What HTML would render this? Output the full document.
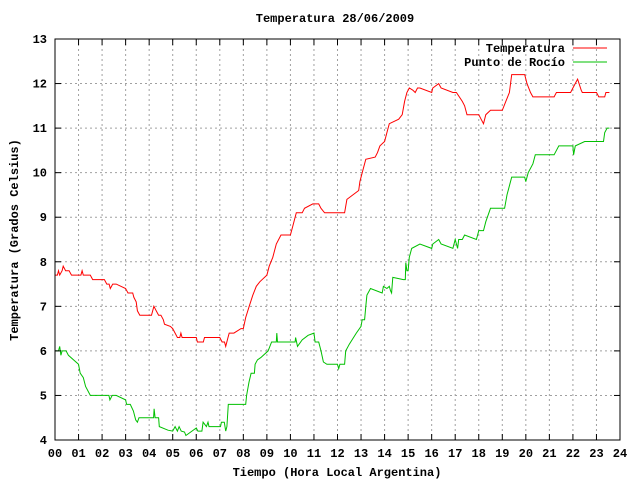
<!DOCTYPE html>
<html><head><meta charset="utf-8"><style>
body{margin:0;background:#fff}
text{font-family:"Liberation Mono",monospace;font-size:12px;font-weight:bold;fill:#000}
</style></head><body>
<svg id="chart" width="640" height="480" viewBox="0 0 640 480" xmlns="http://www.w3.org/2000/svg">
<rect width="640" height="480" fill="#fff"/>
<g id="grid"></g>
<g id="series"></g>
<rect x="55" y="39" width="565" height="401" fill="none" stroke="#000" stroke-width="1"/>
<g id="ticks"></g>
<text x="335" y="22" text-anchor="middle">Temperatura 28/06/2009</text>
<text x="337" y="476" text-anchor="middle">Tiempo (Hora Local Argentina)</text>
<text transform="translate(18,240) rotate(-90)" text-anchor="middle">Temperatura (Grados Celsius)</text>
<g>
<text x="565" y="52" text-anchor="end">Temperatura</text>
<line x1="573" y1="48" x2="607" y2="48" stroke="#ff0000"/>
<text x="565" y="66" text-anchor="end">Punto de Rocío</text>
<line x1="573" y1="62" x2="607" y2="62" stroke="#00c000"/>
</g>
</svg>
<script>
const xTicks=["00","01","02","03","04","05","06","07","08","09","10","11","12","13","14","15","16","17","18","19","20","21","22","23","24"];
const yTicks=[4,5,6,7,8,9,10,11,12,13];
const tempHours=[0,0.1,0.15,0.2,0.3,0.35,0.45,0.6,0.7,1.0,1.1,1.15,1.2,1.5,1.6,2.1,2.2,2.3,2.35,2.45,2.6,2.8,3.0,3.1,3.3,3.35,3.45,3.5,3.6,4.1,4.2,4.3,4.4,4.5,4.6,4.65,4.9,5.0,5.1,5.2,5.3,5.35,5.4,6.0,6.05,6.3,6.35,7.0,7.1,7.2,7.25,7.35,7.4,7.6,7.9,8.0,8.1,8.25,8.4,8.55,8.7,9.0,9.1,9.25,9.4,9.6,10.0,10.1,10.25,10.5,10.6,10.95,11.2,11.3,11.45,12.3,12.4,12.9,12.95,13.05,13.2,13.6,13.7,13.8,14.0,14.1,14.2,14.6,14.75,14.85,14.95,15.05,15.2,15.3,15.4,15.5,16.0,16.05,16.3,16.4,16.9,17.05,17.3,17.4,17.5,18.0,18.1,18.2,18.3,18.5,19.0,19.15,19.3,19.4,19.95,20.05,20.2,20.3,21.2,21.3,21.9,22.0,22.2,22.35,22.4,23.0,23.1,23.35,23.4,23.55];
const tempValues=[7.7,7.7,7.8,7.7,7.8,7.9,7.8,7.8,7.7,7.7,7.7,7.8,7.7,7.7,7.6,7.6,7.5,7.5,7.4,7.5,7.5,7.45,7.4,7.3,7.3,7.2,7.1,6.9,6.8,6.8,7.0,6.9,6.8,6.8,6.7,6.6,6.55,6.5,6.4,6.3,6.3,6.4,6.3,6.3,6.2,6.2,6.3,6.3,6.2,6.2,6.1,6.3,6.4,6.4,6.5,6.5,6.75,7.0,7.25,7.45,7.55,7.7,7.9,8.1,8.4,8.6,8.6,8.8,9.1,9.1,9.2,9.3,9.3,9.2,9.1,9.1,9.4,9.6,9.8,10.0,10.3,10.35,10.45,10.6,10.7,10.9,11.1,11.2,11.3,11.6,11.8,11.9,11.85,11.8,11.9,11.9,11.8,11.9,12.0,11.9,11.8,11.8,11.6,11.5,11.3,11.3,11.2,11.1,11.3,11.4,11.4,11.6,11.8,12.2,12.2,12.0,11.8,11.7,11.7,11.8,11.8,11.9,12.1,11.85,11.8,11.8,11.7,11.7,11.8,11.8];
const dewHours=[0,0.15,0.2,0.25,0.3,0.47,0.57,1.0,1.07,1.2,1.3,1.4,1.5,2.29,2.33,2.43,2.6,3.0,3.04,3.2,3.33,3.43,3.5,3.57,4.19,4.21,4.25,4.4,4.43,4.8,5.0,5.1,5.2,5.27,5.36,5.5,5.56,6.0,6.07,6.24,6.29,6.43,6.5,6.54,7.03,7.07,7.19,7.25,7.3,7.36,8.1,8.14,8.24,8.33,8.47,8.5,8.6,8.74,9.05,9.2,9.4,9.42,9.45,10.2,10.22,10.3,10.5,10.75,11.0,11.05,11.2,11.3,11.4,11.55,12.0,12.05,12.1,12.3,12.35,12.5,12.8,13.0,13.05,13.15,13.2,13.25,13.4,13.9,13.95,14.1,14.2,14.25,14.3,14.32,14.35,14.8,14.88,14.9,14.95,15.0,15.05,15.15,15.5,16.0,16.05,16.3,16.4,16.9,17.0,17.1,17.15,17.3,17.4,17.9,18.0,18.2,18.3,18.5,19.1,19.2,19.4,19.95,20.0,20.1,20.3,20.4,21.2,21.4,22.0,22.03,22.1,22.5,23.3,23.35,23.45,23.55];
const dewValues=[6.0,6.0,6.1,5.9,6.0,6.0,5.9,5.7,5.5,5.4,5.2,5.1,5.0,5.0,4.9,5.0,5.0,4.9,4.8,4.8,4.65,4.45,4.4,4.5,4.5,4.7,4.5,4.5,4.3,4.22,4.2,4.3,4.2,4.3,4.2,4.18,4.1,4.27,4.2,4.2,4.4,4.3,4.4,4.3,4.3,4.4,4.4,4.2,4.3,4.8,4.8,5.0,5.3,5.5,5.5,5.7,5.8,5.85,6.0,6.2,6.2,6.4,6.2,6.2,6.3,6.1,6.25,6.35,6.4,6.2,6.2,6.0,5.75,5.7,5.7,5.6,5.7,5.7,6.0,6.15,6.4,6.55,6.7,6.7,7.0,7.25,7.4,7.3,7.45,7.4,7.45,7.35,7.3,7.45,7.65,7.6,7.6,7.98,7.8,7.8,8.1,8.3,8.4,8.3,8.4,8.5,8.4,8.3,8.5,8.3,8.5,8.5,8.6,8.5,8.7,8.7,8.9,9.2,9.2,9.5,9.9,9.9,9.8,10.0,10.2,10.4,10.4,10.6,10.6,10.4,10.6,10.7,10.7,10.9,11.0,11.0];
const L=55,R=620,T=39,B=440;
const xs=h=>L+(R-L)*h/24;
const ys=v=>B-(B-T)*(v-4)/9;
const NS="http://www.w3.org/2000/svg";
function mk(tag,attrs,parent){const e=document.createElementNS(NS,tag);for(const k in attrs)e.setAttribute(k,attrs[k]);parent.appendChild(e);return e;}
const grid=document.getElementById('grid'),ticks=document.getElementById('ticks'),series=document.getElementById('series');
xTicks.forEach((lab,i)=>{const x=xs(i);
 if(i>0&&i<24){const g=mk('line',{x1:x,y1:T,x2:x,y2:B,stroke:'#a0a0a0','stroke-dasharray':'2,3'},grid);
 
 }
 const t1=mk('line',{x1:x,y1:B,x2:x,y2:B-6,stroke:'#000'},ticks);
 
 
 const t2=mk('line',{x1:x,y1:T,x2:x,y2:T+6,stroke:'#000'},ticks);
 
 
 const tx=mk('text',{x:x,y:457,'text-anchor':'middle'},ticks);tx.textContent=lab;
 
 
});
yTicks.forEach(v=>{const y=ys(v);
 if(v>4&&v<13){const g=mk('line',{x1:L,y1:y,x2:R,y2:y,stroke:'#a0a0a0','stroke-dasharray':'2,3'},grid);
 
 }
 const t1=mk('line',{x1:L,y1:y,x2:L+6,y2:y,stroke:'#000'},ticks);
 
 
 const t2=mk('line',{x1:R,y1:y,x2:R-6,y2:y,stroke:'#000'},ticks);
 
 
 const tx=mk('text',{x:47,y:y+4,'text-anchor':'end'},ticks);tx.textContent=v;
 
 
});
function line(hs,vs,color,name){const p=hs.map((h,i)=>xs(h).toFixed(1)+','+ys(vs[i]).toFixed(1)).join(' ');
 const e=mk('polyline',{points:p,fill:'none',stroke:color,'stroke-width':1},series);
 
 }
line(dewHours,dewValues,'#00c000','dew-point-line');
line(tempHours,tempValues,'#ff0000','temperature-line');
</script>
</body></html>
